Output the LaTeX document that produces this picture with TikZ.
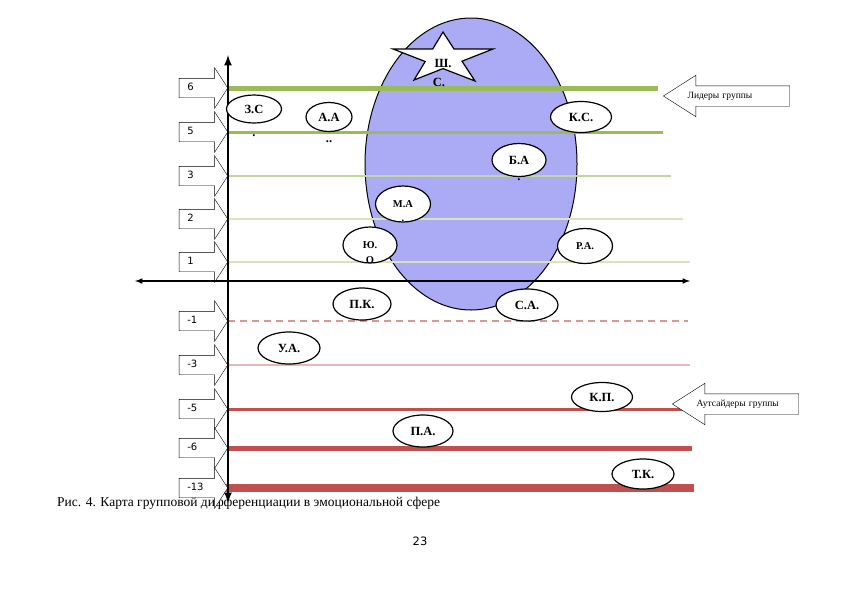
\documentclass[tikz,border=0pt]{standalone}
\usepackage{fontspec}
\setmainfont{Liberation Serif}
\newfontfamily\labelfont{DejaVu Sans}
\usetikzlibrary{shapes.geometric,shapes.arrows,arrows}

\definecolor{leadgreen}{HTML}{9BBB59}
\definecolor{midgreen}{HTML}{C3D69B}
\definecolor{palegreen}{HTML}{D7E4BD}
\definecolor{outred}{HTML}{C0504D}
\definecolor{midred}{HTML}{D99694}
\definecolor{palered}{HTML}{E6B9B8}
\definecolor{zone}{RGB}{170,170,245}

\tikzset{
  person/.style    = {shape=ellipse, draw, line width=1.2pt, fill=white,
                      inner sep=0pt, font=\bfseries\fontsize{12.5}{14}\selectfont},
  quiet/.style     = {person, font=\bfseries\fontsize{10.5}{12}\selectfont},
  spill/.style     = {anchor=base, inner sep=0pt, label distance=#1,
                      font=\bfseries\fontsize{12.5}{14}\selectfont},
  quietspill/.style= {spill=#1, font=\bfseries\fontsize{10.5}{12}\selectfont},
  rank/.style      = {shape=single arrow, draw, fill=white, anchor=tip,
                      text width=26pt, align=left, inner xsep=8pt, inner ysep=5pt,
                      text height=7pt, text depth=2pt,
                      single arrow head extend=10.5pt, single arrow tip angle=114,
                      font=\labelfont\fontsize{10}{11}\selectfont},
  groupsign/.style = {shape=single arrow, draw, fill=white, anchor=tip,
                      shape border rotate=180,
                      text width=94pt, align=left, inner xsep=8pt, inner ysep=5.5pt,
                      text height=7pt, text depth=2pt,
                      single arrow head extend=10.5pt, single arrow tip angle=65,
                      font=\fontsize{9.5}{10}\selectfont}
}

\begin{document}
\begin{tikzpicture}[x=1pt, y=-1pt]
\useasboundingbox[fill=white] (0,0) rectangle (842,595);

% emotional core of the group
\node[ellipse, draw, line width=1pt, fill=zone,
      minimum width=212pt, minimum height=292pt] (core) at (471,164) {};

\node[anchor=base west, inner sep=0pt, font=\fontsize{13.5}{15}\selectfont]
     (caption) at (57,506) {Рис. 4. Карта групповой дифференциации в эмоциональной сфере};
\node[font=\labelfont\fontsize{11.5}{12}\selectfont] (page) at (420,541) {23};

% status levels
\draw[leadgreen, line width=5pt]   (228,88)  -- (658,88);
\draw[leadgreen, line width=3pt]   (228,132) -- (663,132);
\draw[midgreen, line width=1.2pt]  (228,176) -- (671,176);
\draw[palegreen, line width=1.2pt] (228,219) -- (683,219);
\draw[palegreen, line width=1.2pt] (228,262) -- (690,262);
\draw[midred, line width=1.3pt, dash pattern=on 7pt off 5pt] (228,321) -- (688,321);
\draw[palered, line width=1.3pt]   (228,365) -- (690,365);
\draw[outred, line width=3pt]      (228,409) -- (690,409);
\draw[outred, line width=5pt]      (228,448) -- (692,448);
\draw[outred, line width=8pt]      (222,488) -- (694,488);

\node[rank] (r6)  at (228,88)  {6};
\node[rank] (r5)  at (228,132) {5};
\node[rank] (r3)  at (228,176) {3};
\node[rank] (r2)  at (228,219) {2};
\node[rank] (r1)  at (228,262) {1};
\node[rank] (m1)  at (228,321) {-1};
\node[rank] (m3)  at (228,365) {-3};
\node[rank] (m5)  at (228,409) {-5};
\node[rank] (m6)  at (228,448) {-6};
\node[rank] (m13) at (228,488) {-13};

% axes
\coordinate (ytop)   at (228,55);
\coordinate (ybot)   at (228,503);
\coordinate (xleft)  at (135,281);
\coordinate (xright) at (690,281);
\draw[line width=2.5pt, latex-latex] (ybot) -- (ytop);
\draw[line width=1.5pt, latex-latex] (xleft) -- (xright);

% leader
\draw[fill=white, line width=1.2pt]
  (443,32) -- (432.7,49) -- (393,49) -- (425.2,61.5) -- (414,80)
  -- (443,68.6) -- (475,81) -- (462,61.2) -- (493,49) -- (454,49) -- cycle;
\node[inner sep=0pt, font=\bfseries\fontsize{12.5}{14}\selectfont,
      label={[spill=19pt, xshift=-4pt]below:С.}] (sh) at (443,63) {Ш.};

\node[groupsign] (leaders)   at (663,96)  {Лидеры группы};
\node[groupsign] (outsiders) at (672,404) {Аутсайдеры группы};

% members
\node[person, minimum width=55pt, minimum height=28pt,
      label={[spill=13pt]below:.}]  (zs) at (254,109) {З.С};
\node[person, minimum width=46pt, minimum height=29pt,
      label={[spill=10pt]below:..}] (aa) at (329,117) {А.А};
\node[person, minimum width=61pt, minimum height=31pt] (ks) at (581,117) {К.С.};
\node[person, minimum width=54pt, minimum height=33pt,
      label={[spill=3.5pt]below:.}] (ba) at (519,160) {Б.А};
\node[quiet, minimum width=55pt, minimum height=36pt,
      label={[quietspill=-1pt]below:.}] (ma) at (403,204) {М.А};
\node[quiet, minimum width=54pt, minimum height=36pt,
      label={[quietspill=0pt]below:О}] (yu) at (370,245) {Ю.};
\node[quiet, minimum width=55pt, minimum height=35pt] (ra) at (585,246) {Р.А.};
\node[person, minimum width=58pt, minimum height=32pt] (pk) at (362,304) {П.К.};
\node[person, minimum width=62pt, minimum height=32pt] (sa) at (527,305) {С.А.};
\node[person, minimum width=62pt, minimum height=32pt] (ua) at (289,348) {У.А.};
\node[person, minimum width=61pt, minimum height=29pt] (kp) at (602,397) {К.П.};
\node[person, minimum width=60pt, minimum height=32pt] (pa) at (423,431) {П.А.};
\node[person, minimum width=62pt, minimum height=30pt] (tk) at (643,474) {Т.К.};
\end{tikzpicture}
\end{document}
